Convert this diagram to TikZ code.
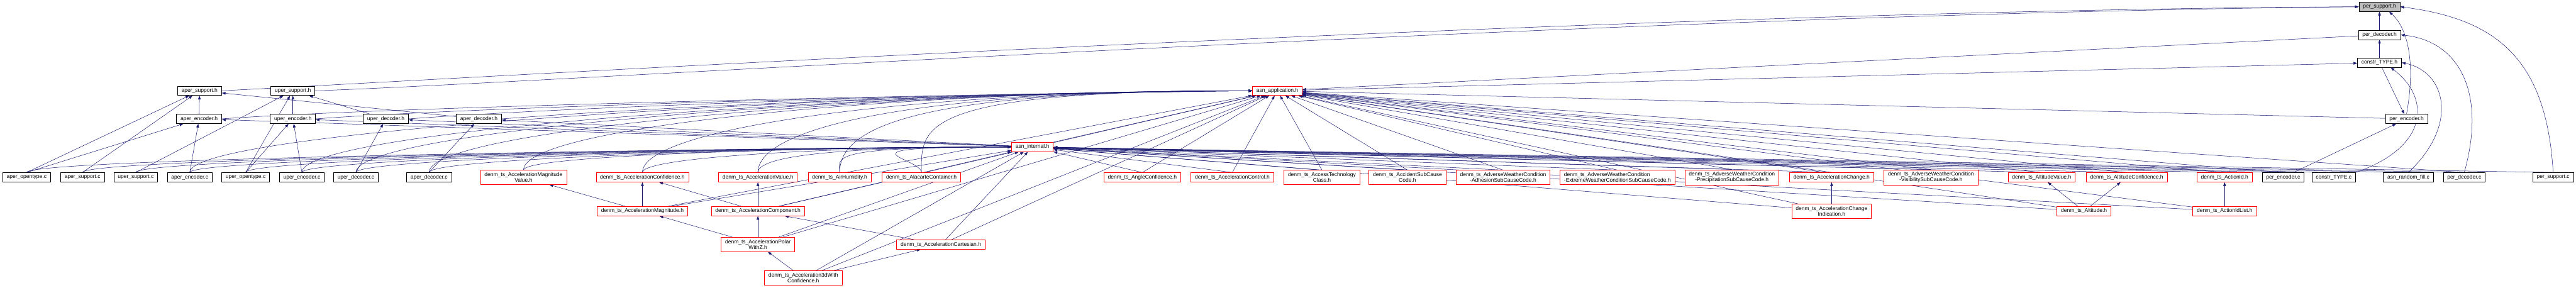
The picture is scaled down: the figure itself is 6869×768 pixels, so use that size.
\documentclass[tikz,border=0pt]{standalone}
\usepackage{fontspec}
\setmainfont{Liberation Sans}
\usetikzlibrary{arrows.meta,backgrounds}
\definecolor{dedge}{HTML}{191970}
\definecolor{dred}{HTML}{FF0000}
\definecolor{dgray}{HTML}{BFBFBF}
\tikzset{
  % plain file box, black frame
  hfile/.style = {rectangle, draw=black, fill=white, line width=0.8pt, align=center,
                  font=\fontsize{10}{11}\selectfont, inner xsep=7.5pt, inner ysep=4.1pt,
                  minimum height=17.5pt},
  % truncated node (more includers not shown)
  hcut/.style  = {hfile, draw=dred},
  % the file the graph is about
  hcur/.style  = {hfile, fill=dgray},
  incl/.style  = {-{Triangle[length=7pt,width=5pt]}, line width=0.6pt, dedge},
}

\begin{document}
\begin{tikzpicture}[x=0.7pt, y=-0.7pt]
\useasboundingbox (0,0) rectangle (6869,768);

% --- upper part -------------------------------------------------------
\node[hcur]  (ps)  at (6345,18)  {per\_support.h};
\node[hfile] (pdh) at (6345,93)  {per\_decoder.h};
\node[hfile] (cth) at (6345,167) {constr\_TYPE.h};
\node[hcut]  (app) at (3406,242) {asn\_application.h};
\node[hfile] (ash) at (532,242)  {aper\_support.h};
\node[hfile] (ush) at (781,242)  {uper\_support.h};
\node[hfile] (aeh) at (531,317)  {aper\_encoder.h};
\node[hfile] (ueh) at (781,317)  {uper\_encoder.h};
\node[hfile] (udh) at (1029,317) {uper\_decoder.h};
\node[hfile] (adh) at (1277,317) {aper\_decoder.h};
\node[hfile] (peh) at (6417,317) {per\_encoder.h};
\node[hcut]  (int) at (2753,392) {asn\_internal.h};

% --- source files, bottom row -----------------------------------------
\foreach \n/\x/\t in {aoc/71/aper\_opentype.c, asc/220/aper\_support.c, usc/362/uper\_support.c,
    aec/506/aper\_encoder.c, uoc/655/uper\_opentype.c, uec/805/uper\_encoder.c,
    udc/949/uper\_decoder.c, adc/1144/aper\_decoder.c, pec/6088/per\_encoder.c,
    ctc/6223/constr\_TYPE.c, rfc/6422/asn\_random\_fill.c, pdc/6571/per\_decoder.c,
    psc/6808/per\_support.c}
  {\node[hfile] (\n) at (\x,473) {\t};}

% --- generated headers, bottom row ------------------------------------
\foreach \n/\x/\t in {amv/1396/denm\_ts\_AccelerationMagnitude\\Value.h,
    acf/1713/denm\_ts\_AccelerationConfidence.h, aval/2021/denm\_ts\_AccelerationValue.h,
    ahum/2239/denm\_ts\_AirHumidity.h, alc/2457/denm\_ts\_AlacarteContainer.h,
    angc/3046/denm\_ts\_AngleConfidence.h, actl/3286/denm\_ts\_AccelerationControl.h,
    atc/3525/denm\_ts\_AccessTechnology\\Class.h, acc/3753/denm\_ts\_AccidentSubCause\\Code.h,
    wadh/4008/denm\_ts\_AdverseWeatherCondition\\-AdhesionSubCauseCode.h,
    wpre/4618/denm\_ts\_AdverseWeatherCondition\\-PrecipitationSubCauseCode.h,
    achg/4884/denm\_ts\_AccelerationChange.h,
    wvis/5149/denm\_ts\_AdverseWeatherCondition\\-VisibilitySubCauseCode.h,
    altv/5444/denm\_ts\_AltitudeValue.h, altc/5671/denm\_ts\_AltitudeConfidence.h,
    aid/5932/denm\_ts\_ActionId.h}
  {\node[hcut] (\n) at (\x,473) {\t};}
\node[hcut, align=left] (wext) at (4313,473)
  {denm\_ts\_AdverseWeatherCondition\\-ExtremeWeatherConditionSubCauseCode.h};

% --- lower levels -----------------------------------------------------
\node[hcut] (amag)  at (1713,563) {denm\_ts\_AccelerationMagnitude.h};
\node[hcut] (acomp) at (2021,563) {denm\_ts\_AccelerationComponent.h};
\node[hcut] (achi)  at (4884,563) {denm\_ts\_AccelerationChange\\Indication.h};
\node[hcut] (alt)   at (5557,563) {denm\_ts\_Altitude.h};
\node[hcut] (aidl)  at (5932,563) {denm\_ts\_ActionIdList.h};
\node[hcut] (apol)  at (2021,652) {denm\_ts\_AccelerationPolar\\WithZ.h};
\node[hcut] (acart) at (2509,652) {denm\_ts\_AccelerationCartesian.h};
\node[hcut] (a3d)   at (2142,741) {denm\_ts\_Acceleration3dWith\\Confidence.h};

% --- include edges ----------------------------------------------------
\begin{scope}[on background layer]
\foreach \a/\b in {pdh/ps, cth/pdh, app/cth, cth/peh, pdh/app, peh/app,
    int/app, aeh/ash, ueh/ush, udh/ush, adh/ash, int/aeh, int/ueh, int/udh, int/adh, pec/peh}
  {\draw[incl] (\a) -- (\b);}
\draw[incl] (ash.east) .. controls +(600,-30) and +(-2000,10) .. (ps.west);
\draw[incl] (ush.east) .. controls +(600,-20) and +(-2000,20) .. (ps.west);
\foreach \a in {aeh, ueh, udh, adh}
  {\draw[incl] (\a.east) .. controls +(400,-30) and +(-900,10) .. (app.west);}
\draw[incl] (peh.north) .. controls (6440,180) and (6425,80) .. ([xshift=18pt]ps.south);
\draw[incl] (psc.north) .. controls (6790,150) and (6650,50) .. (ps.east);
\draw[incl] (pdc.north) .. controls (6630,250) and (6560,110) .. (pdh.east);
\draw[incl] (rfc.north) .. controls (6560,330) and (6520,190) .. (cth.east);
\draw[incl] (ctc.north east) .. controls (6480,390) and (6480,260) .. ([xshift=21pt]cth.south);

% sources into the codec headers
\foreach \a/\b in {aoc/ash, aoc/aeh, asc/ash, usc/ush, aec/aeh, uoc/ush, uoc/ueh, uec/ueh,
    udc/udh, adc/adh}
  {\draw[incl] (\a.north) -- (\b);}

% everything into asn_internal.h
\foreach \a in {aoc, asc, usc, aec, uoc, uec, udc, adc, amv, acf, aval, ahum, alc}
  {\draw[incl] (\a.north) .. controls +(0,-40) and +(-500,0) .. (int.west);}
\foreach \a in {pec, ctc, rfc, pdc, psc, angc, actl, atc, acc, wadh, wext, wpre, achg,
    wvis, altv, altc, aid}
  {\draw[incl] (\a.north) -- (int);}

% everything into asn_application.h
\foreach \a in {aec, uec, udc, adc, amv, acf, aval, ahum, alc}
  {\draw[incl] (\a.north) .. controls +(0,-120) and +(-900,0) .. (app.west);}
\foreach \a in {pec, pdc, angc, actl, atc, acc, wadh, wext, wpre, achg, wvis, altv, altc, aid}
  {\draw[incl] (\a.north) -- (app);}
\foreach \a in {amag, acomp, achi, alt, aidl, apol, acart, a3d}
  {\draw[incl] (\a) -- (int); \draw[incl] (\a) -- (app);}

% between generated headers
\foreach \a/\b in {amag/amv, amag/acf, acomp/acf, acomp/aval, apol/amag, apol/acomp,
    acart/acomp, a3d/apol, a3d/acart, achi/achg, alt/altv, alt/altc, aidl/aid}
  {\draw[incl] (\a) -- (\b);}
\end{scope}
\end{tikzpicture}
\end{document}
